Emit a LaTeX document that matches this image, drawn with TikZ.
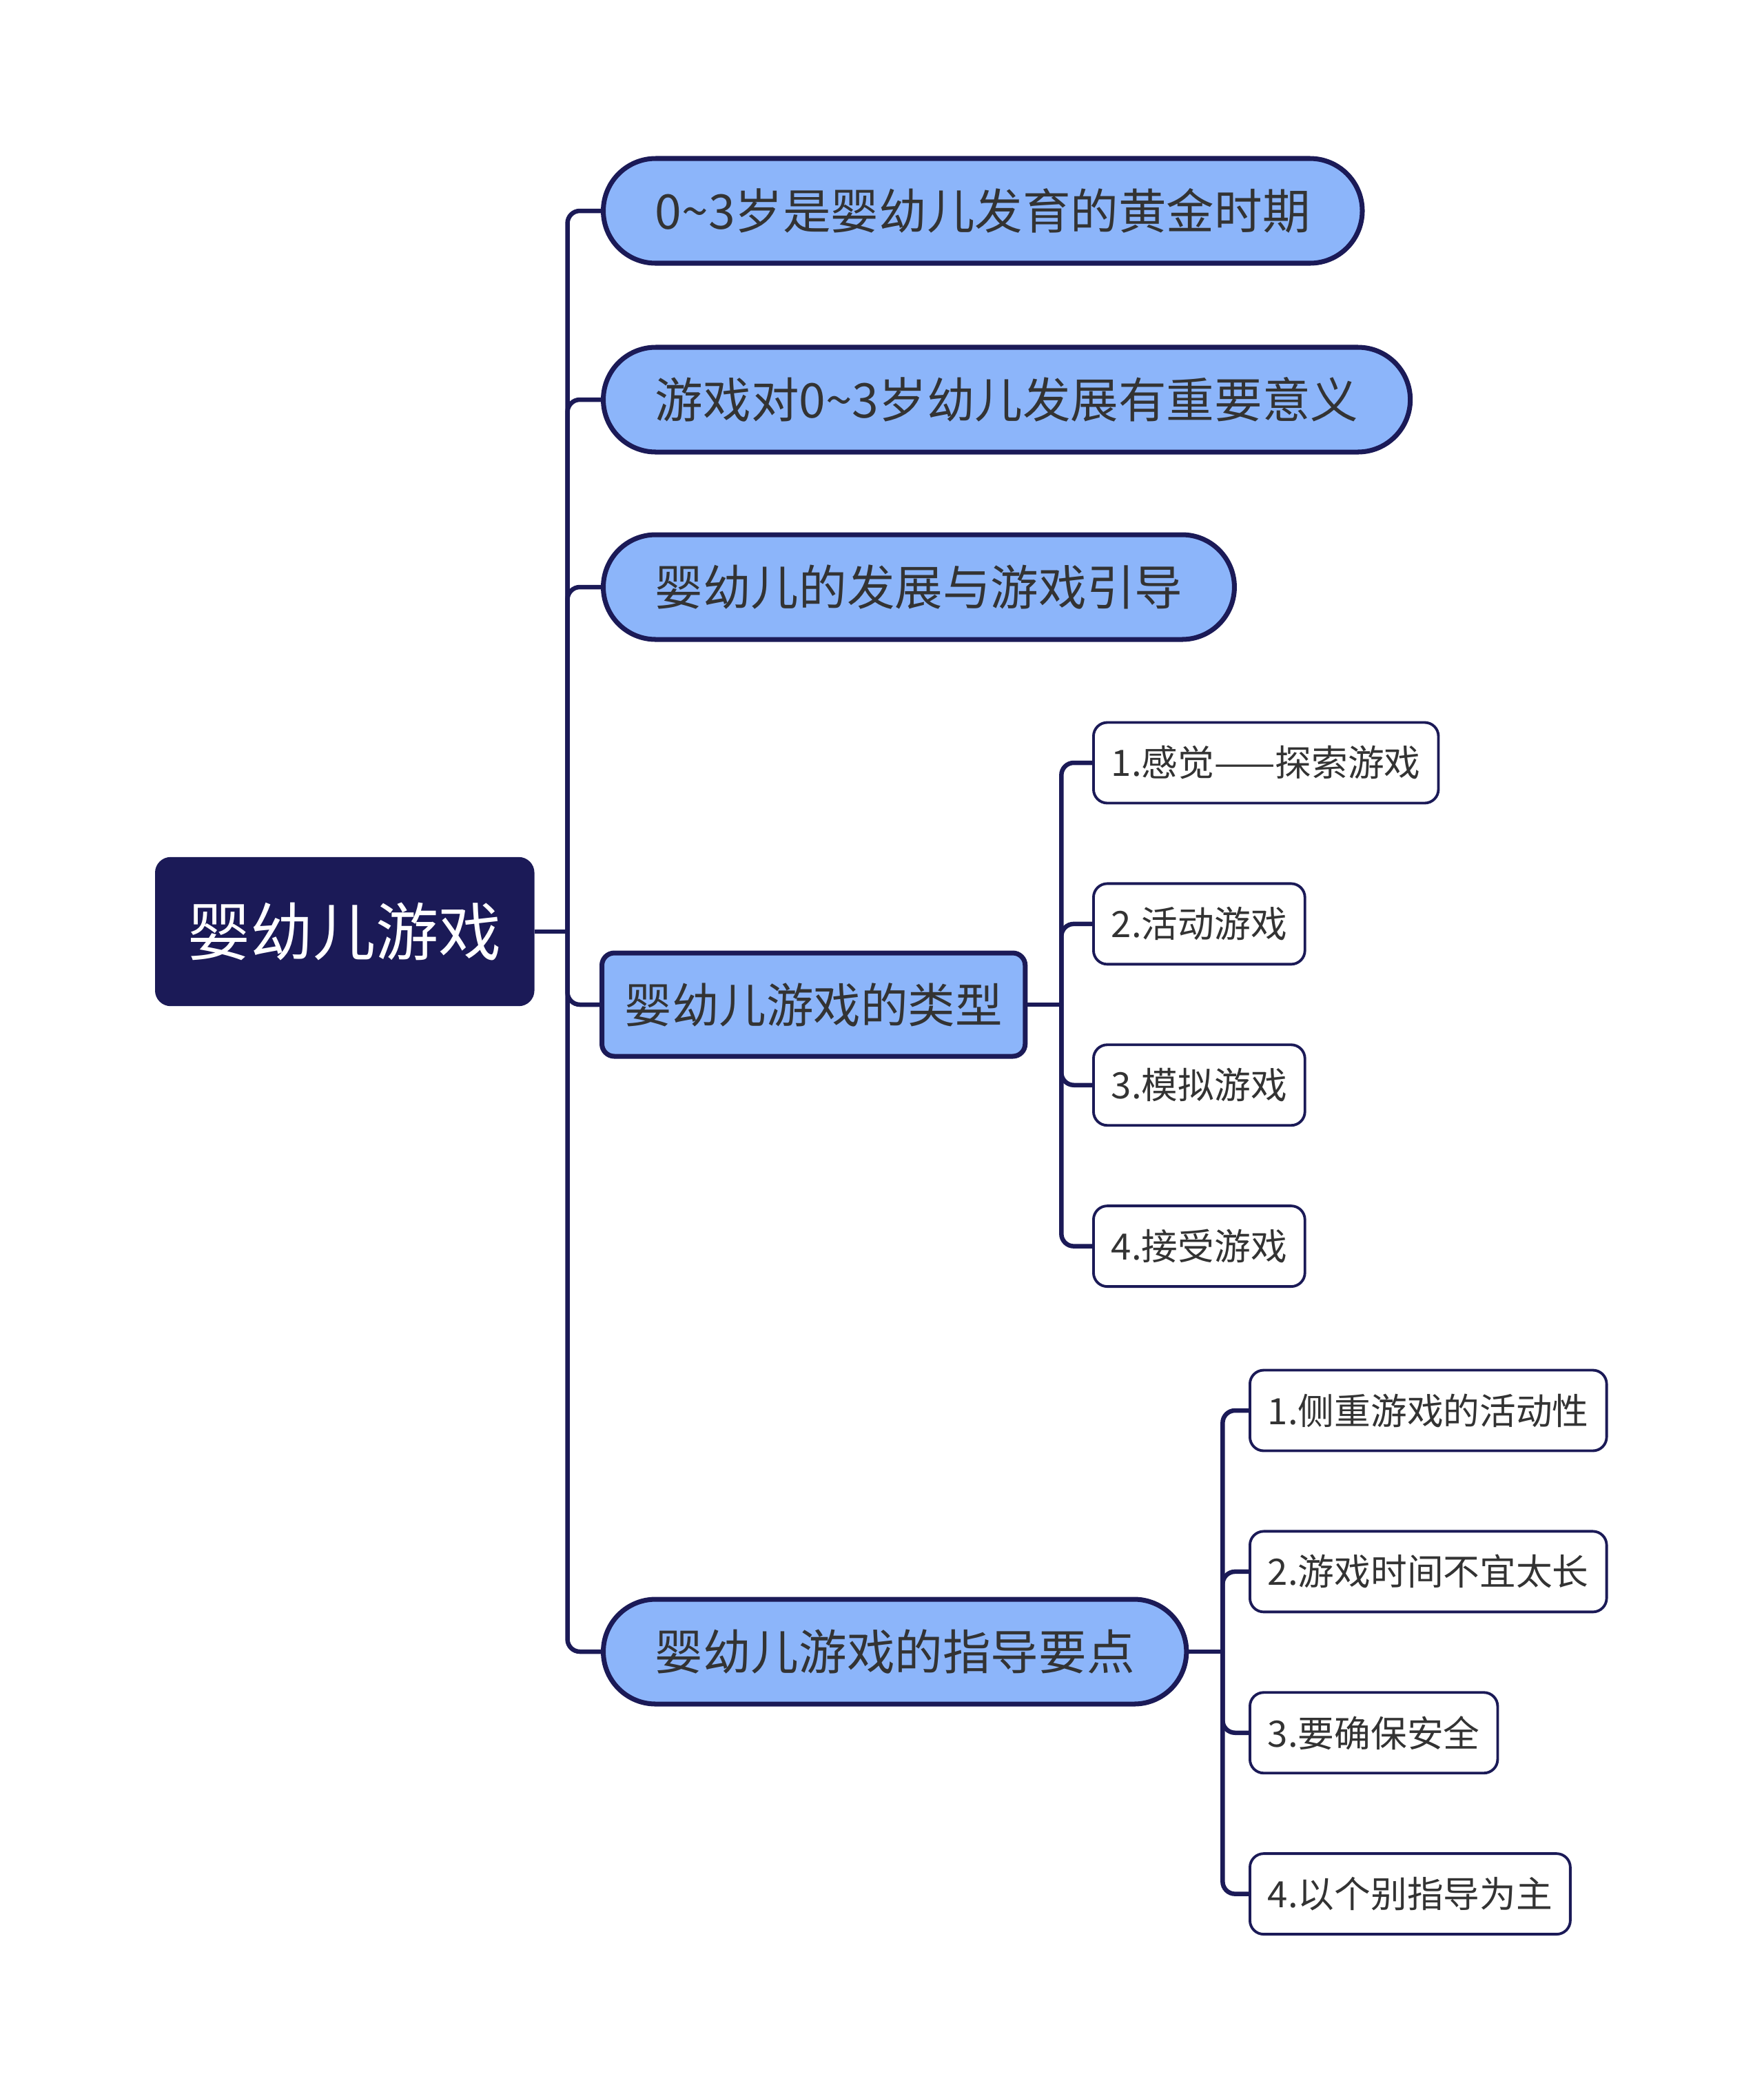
\documentclass[tikz,border=0pt]{standalone}
\usepackage{fontspec}
\setmainfont{Noto Sans CJK SC}
\usepackage{xcolor}
\usepackage{tikz}
\usetikzlibrary{shapes,positioning,calc}

\definecolor{navy}{HTML}{1B1A57}
\definecolor{skyblue}{HTML}{8CB5FA}
\definecolor{inkgray}{HTML}{333333}

\begin{document}
\begin{tikzpicture}[
    rootbox/.style={rectangle, draw=navy, fill=navy, rounded corners=0.22cm, minimum height=2.15cm, inner xsep=0.47cm, text=white, font=\fontsize{25.9pt}{30pt}\selectfont},
    pillbox/.style={rounded rectangle, draw=navy, fill=skyblue, line width=2pt, minimum height=1.52cm, inner xsep=0.68cm, text=inkgray, font=\fontsize{19.8pt}{23pt}\selectfont},
    typebox/.style={rectangle, draw=navy, fill=skyblue, line width=2pt, rounded corners=0.18cm, minimum height=1.5cm, inner xsep=0.33cm, text=inkgray, font=\fontsize{19.5pt}{23pt}\selectfont},
    leafbox/.style={rectangle, draw=navy, fill=white, line width=1.1pt, rounded corners=0.2cm, minimum height=1.17cm, inner xsep=0.26cm, text=inkgray, font=\fontsize{15pt}{18pt}\selectfont},
    link/.style={draw=navy, line width=1.85pt, rounded corners=0.18cm}
]
    \useasboundingbox (0,0) rectangle (25.6,-30.39);

    \node [rootbox, anchor=west] (game) at (2.25,-13.52) {婴幼儿游戏};

    \node [pillbox, anchor=west] (gold) at (8.72,-3.06) {0\textasciitilde3岁是婴幼儿发育的黄金时期};
    \node [pillbox, anchor=west] (meaning) at (8.72,-5.80) {游戏对0\textasciitilde3岁幼儿发展有重要意义};
    \node [pillbox, anchor=west] (guide) at (8.72,-8.52) {婴幼儿的发展与游戏引导};
    \node [typebox, anchor=west] (types) at (8.70,-14.58) {婴幼儿游戏的类型};
    \node [pillbox, anchor=west] (points) at (8.72,-23.97) {婴幼儿游戏的指导要点};

    \node [leafbox, anchor=west] (t1) at (15.85,-11.07) {1.感觉——探索游戏};
    \node [leafbox, below=1.13cm of t1.south west, anchor=north west] (t2) {2.活动游戏};
    \node [leafbox, below=1.13cm of t2.south west, anchor=north west] (t3) {3.模拟游戏};
    \node [leafbox, below=1.13cm of t3.south west, anchor=north west] (t4) {4.接受游戏};

    \node [leafbox, anchor=west] (p1) at (18.12,-20.47) {1.侧重游戏的活动性};
    \node [leafbox, below=1.13cm of p1.south west, anchor=north west] (p2) {2.游戏时间不宜太长};
    \node [leafbox, below=1.13cm of p2.south west, anchor=north west] (p3) {3.要确保安全};
    \node [leafbox, below=1.13cm of p3.south west, anchor=north west] (p4) {4.以个别指导为主};

    % trunk from the root
    \coordinate (hub) at ($(game.east)+(0.48,0)$);
    \draw [link] (game.east) -- (hub);
    \draw [link] (hub) |- (gold.west);
    \draw [link] (hub) |- (meaning.west);
    \draw [link] (hub) |- (guide.west);
    \draw [link] (hub) |- (types.west);
    \draw [link] (hub) |- (points.west);

    % game types
    \coordinate (typehub) at ($(types.east)+(0.49,0)$);
    \draw [link] (types.east) -- (typehub);
    \draw [link] (typehub) |- (t1.west);
    \draw [link] (typehub) |- (t2.west);
    \draw [link] (typehub) |- (t3.west);
    \draw [link] (typehub) |- (t4.west);

    % guidance points
    \coordinate (pointhub) at ($(points.east)+(0.49,0)$);
    \draw [link] (points.east) -- (pointhub);
    \draw [link] (pointhub) |- (p1.west);
    \draw [link] (pointhub) |- (p2.west);
    \draw [link] (pointhub) |- (p3.west);
    \draw [link] (pointhub) |- (p4.west);
\end{tikzpicture}
\end{document}
